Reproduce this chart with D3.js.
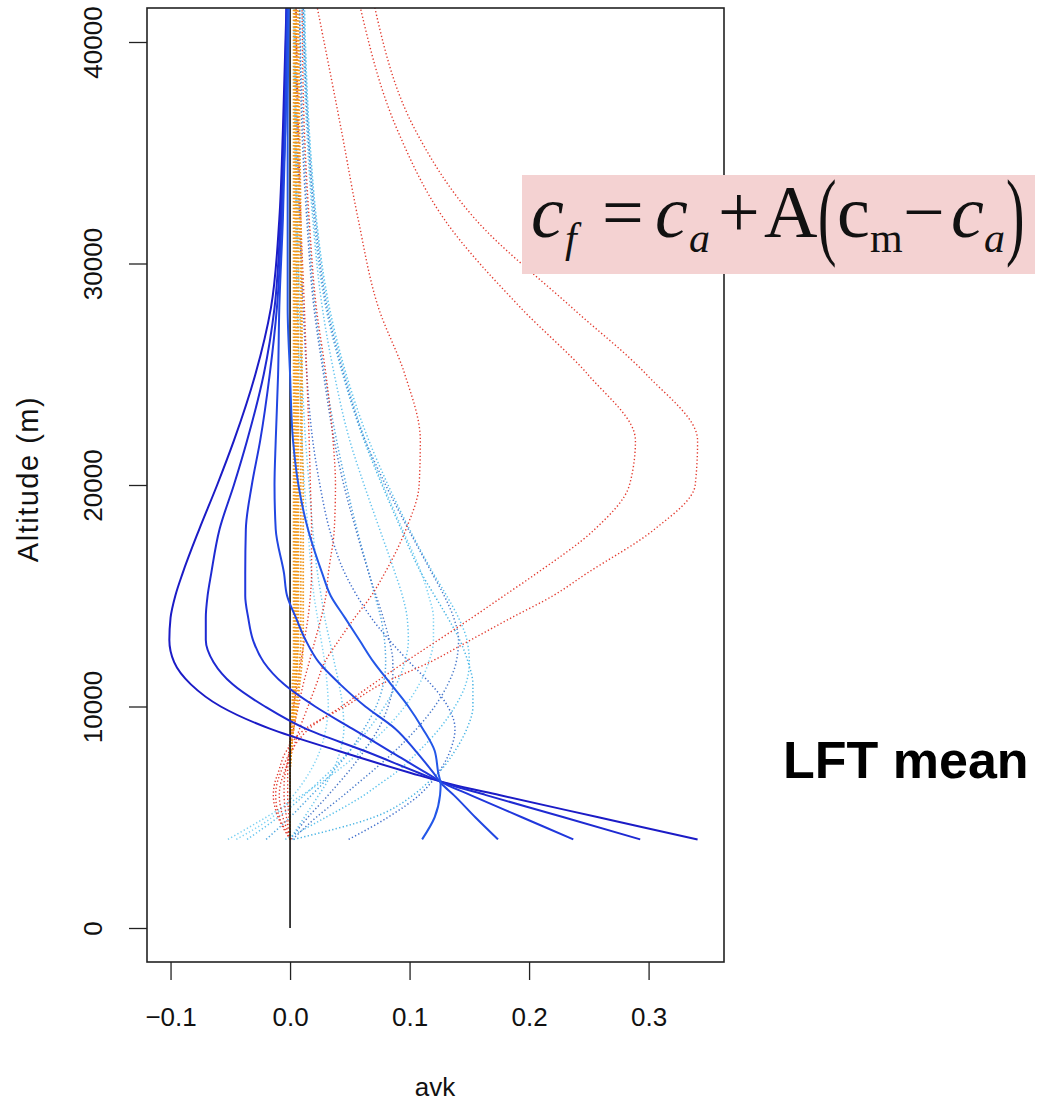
<!DOCTYPE html>
<html lang="en">
<head>
<meta charset="UTF-8">
<title>LFT mean – averaging kernels</title>
<script src="https://d3js.org/d3.v7.min.js"></script>
<style>
  body { margin: 0; background: #fff; }
  svg { display: block; font-family: "Liberation Sans", Arial, sans-serif; }
  .tick text { font-size: 26px; fill: #111; }
  .tick line { stroke: #222; stroke-width: 1.3; }
  .formula text { font-family: "Liberation Serif", "Times New Roman", serif; fill: #111; }
</style>
</head>
<body>
<svg width="1038" height="1102"></svg>
<script>
// altitude levels (m) shared by every kernel
const altitudes = [4000, 5000, 6000, 6500, 7000, 8000, 9000, 10000, 11000, 12000, 13000,
                   14000, 15000, 16000, 18000, 20000, 22000, 25000, 28000, 32000, 36000, 41600];

const xTicks = [-0.1, 0.0, 0.1, 0.2, 0.3];
const yTicks = [0, 10000, 20000, 30000, 40000];

// solid blue kernels (lowest levels)
const blue1 = [0.341, 0.258, 0.175, 0.134, 0.101, 0.040, -0.017, -0.058, -0.083, -0.097, -0.101, -0.100, -0.096, -0.090, -0.076, -0.061, -0.047, -0.029, -0.016, -0.009, -0.006, -0.003];
const blue2 = [0.293, 0.229, 0.164, 0.132, 0.108, 0.062, 0.013, -0.021, -0.048, -0.064, -0.0705, -0.0705, -0.069, -0.066, -0.059, -0.047, -0.036, -0.022, -0.013, -0.008, -0.005, -0.003];
const blue3 = [0.237, 0.194, 0.151, 0.130, 0.114, 0.083, 0.052, 0.021, -0.005, -0.022, -0.031, -0.035, -0.0375, -0.0375, -0.037, -0.032, -0.025, -0.017, -0.011, -0.007, -0.004, -0.002];
const blue4 = [0.174, 0.155, 0.137, 0.127, 0.120, 0.105, 0.088, 0.063, 0.042, 0.024, 0.013, 0.005, -0.0025, -0.005, -0.012, -0.013, -0.012, -0.010, -0.009, -0.006, -0.004, -0.002];
const blue5 = [0.1105, 0.121, 0.1255, 0.126, 0.124, 0.121, 0.111, 0.099, 0.0845, 0.070, 0.058, 0.046, 0.034, 0.027, 0.015, 0.007, 0.0025, 0.000, -0.002, -0.002, -0.002, -0.001];

// dotted cyan / blue kernels (middle levels)
const cyan1 = [0.049, 0.082, 0.108, 0.117, 0.124, 0.134, 0.138, 0.132, 0.118, 0.100, 0.083, 0.068, 0.056, 0.046, 0.033, 0.025, 0.019, 0.014, 0.011, 0.008, 0.006, 0.005];
const cyan2 = [0.003, 0.070, 0.103, 0.114, 0.124, 0.138, 0.148, 0.153, 0.153, 0.149, 0.142, 0.132, 0.121, 0.110, 0.093, 0.077, 0.062, 0.044, 0.030, 0.020, 0.015, 0.011];
const cyan3 = [-0.004, 0.030, 0.062, 0.075, 0.088, 0.108, 0.125, 0.138, 0.147, 0.150, 0.148, 0.141, 0.131, 0.120, 0.100, 0.082, 0.066, 0.047, 0.033, 0.022, 0.016, 0.012];
const cyan4 = [0.002, 0.022, 0.045, 0.056, 0.067, 0.088, 0.106, 0.121, 0.132, 0.139, 0.141, 0.137, 0.129, 0.119, 0.099, 0.080, 0.063, 0.045, 0.031, 0.021, 0.015, 0.011];
const cyan5 = [-0.052, -0.020, 0.010, 0.024, 0.037, 0.060, 0.080, 0.096, 0.108, 0.116, 0.120, 0.120, 0.116, 0.110, 0.094, 0.078, 0.063, 0.046, 0.032, 0.022, 0.016, 0.012];
const cyan6 = [-0.036, -0.010, 0.012, 0.022, 0.032, 0.050, 0.066, 0.079, 0.089, 0.096, 0.099, 0.098, 0.094, 0.088, 0.075, 0.062, 0.050, 0.037, 0.027, 0.019, 0.014, 0.010];
const cyan7 = [-0.020, 0.000, 0.018, 0.027, 0.035, 0.050, 0.062, 0.072, 0.078, 0.080, 0.079, 0.076, 0.071, 0.066, 0.056, 0.047, 0.039, 0.029, 0.021, 0.015, 0.011, 0.008];
const cyan8 = [0.000, 0.015, 0.032, 0.040, 0.048, 0.062, 0.074, 0.082, 0.086, 0.086, 0.083, 0.078, 0.072, 0.066, 0.055, 0.045, 0.037, 0.028, 0.020, 0.014, 0.010, 0.008];
const cyan9 = [0.000, 0.012, 0.024, 0.030, 0.035, 0.042, 0.045, 0.044, 0.041, 0.037, 0.033, 0.029, 0.026, 0.023, 0.019, 0.016, 0.013, 0.010, 0.008, 0.006, 0.005, 0.004];
const cyan10 = [-0.045, -0.015, 0.003, 0.010, 0.016, 0.025, 0.030, 0.032, 0.031, 0.029, 0.026, 0.023, 0.020, 0.018, 0.015, 0.012, 0.010, 0.008, 0.006, 0.005, 0.004, 0.003];

// dotted red kernels (upper levels)
const red1 = [0.000, -0.010, -0.014, -0.013, -0.010, -0.003, 0.013, 0.046, 0.076, 0.117, 0.151, 0.185, 0.220, 0.248, 0.305, 0.339, 0.341, 0.298, 0.236, 0.155, 0.105, 0.0707];
const red2 = [0.001, -0.009, -0.012, -0.011, -0.008, 0.001, 0.016, 0.043, 0.069, 0.096, 0.124, 0.152, 0.179, 0.206, 0.255, 0.284, 0.289, 0.249, 0.193, 0.129, 0.090, 0.0586];
const red3 = [0.001, -0.006, -0.009, -0.008, -0.005, 0.002, 0.008, 0.015, 0.022, 0.029, 0.041, 0.054, 0.068, 0.079, 0.097, 0.108, 0.109, 0.096, 0.074, 0.057, 0.043, 0.0226];
const red4 = [0.000, -0.003, -0.005, -0.005, -0.004, 0.000, 0.003, 0.007, 0.011, 0.016, 0.021, 0.026, 0.030, 0.032, 0.037, 0.038, 0.036, 0.030, 0.022, 0.016, 0.012, 0.010];
const red5 = [0.000, -0.001, -0.002, -0.002, -0.002, -0.001, 0.001, 0.003, 0.006, 0.009, 0.012, 0.015, 0.017, 0.018, 0.018, 0.017, 0.016, 0.014, 0.012, 0.009, 0.007, 0.005];

// dotted orange kernels (top levels, hugging zero)
const orange1 = [0, 0, 0, 0, 0, 0, 0.001, 0.002, 0.002, 0.003, 0.003, 0.003, 0.003, 0.003, 0.003, 0.003, 0.003, 0.003, 0.003, 0.003, 0.003, 0.003];
const orange2 = [0, 0, 0, 0, 0, 0, 0.002, 0.003, 0.004, 0.005, 0.005, 0.005, 0.005, 0.005, 0.005, 0.005, 0.005, 0.005, 0.005, 0.005, 0.005, 0.004];
const orange3 = [0, 0, 0, 0, 0, 0.001, 0.002, 0.004, 0.005, 0.006, 0.007, 0.007, 0.007, 0.007, 0.007, 0.007, 0.007, 0.007, 0.007, 0.007, 0.006, 0.005];
const orange4 = [0, 0, 0, 0, 0, 0.001, 0.003, 0.005, 0.007, 0.008, 0.009, 0.009, 0.009, 0.009, 0.009, 0.009, 0.009, 0.009, 0.009, 0.008, 0.007, 0.006];
const orange5 = [0, 0, 0, 0, 0, 0.001, 0.003, 0.006, 0.008, 0.010, 0.011, 0.011, 0.011, 0.011, 0.011, 0.011, 0.010, 0.010, 0.010, 0.009, 0.008, 0.007];
const orange6 = [0, 0, 0, 0, 0, 0.000, 0.001, 0.002, 0.003, 0.004, 0.004, 0.004, 0.004, 0.004, 0.004, 0.004, 0.004, 0.004, 0.004, 0.004, 0.004, 0.004];
const orange7 = [0, 0, 0, 0, 0, 0.001, 0.002, 0.003, 0.005, 0.006, 0.006, 0.006, 0.006, 0.006, 0.006, 0.006, 0.006, 0.006, 0.006, 0.006, 0.005, 0.005];

const zeroLineAlt = [0, 41600];
const zeroLineVal = [0, 0];

const blueSeries = [blue1, blue2, blue3, blue4, blue5];
const cyanSeries = [cyan1, cyan2, cyan3, cyan4, cyan5, cyan6, cyan7, cyan8, cyan9, cyan10];
const redSeries = [red1, red2, red3, red4, red5];
const orangeSeries = [orange1, orange2, orange3, orange4, orange5, orange6, orange7];

// styles
const blueColors = ["#1b1bc6", "#1e2ad2", "#2037dc", "#2147e2", "#2357e8"];
const cyanColors = ["#3f6ecc", "#48b4e4", "#5ac2ec", "#4a7bcb", "#78d0f2",
                    "#62c3ee", "#4fa7e0", "#4976c6", "#6cc8ee", "#80d3f4"];
const redColor = "#e2392d";
const orangeColor = "#f0961a";

const svg = d3.select("svg");
const plotL = 147, plotR = 724, plotT = 8, plotB = 962;

const x = d3.scaleLinear().domain([-0.1197, 0.3631]).range([plotL, plotR]);
const y = d3.scaleLinear().domain([-1535, 41535]).range([plotB, plotT]);

svg.append("defs").append("clipPath").attr("id", "plotClip")
  .append("rect").attr("x", plotL).attr("y", plotT).attr("width", plotR - plotL).attr("height", plotB - plotT);

const line = d3.line()
  .x(d => x(d[1]))
  .y(d => y(d[0]))
  .curve(d3.curveMonotoneY);

const pts = vals => altitudes.map((a, i) => [a, vals[i]]);

const plot = svg.append("g").attr("clip-path", "url(#plotClip)");

plot.selectAll("path.cyan")
  .data(cyanSeries)
  .enter().append("path")
  .attr("class", "cyan")
  .attr("d", d => line(pts(d)))
  .attr("fill", "none")
  .attr("stroke", (d, i) => cyanColors[i])
  .attr("stroke-width", 1.5)
  .attr("stroke-dasharray", "1.3 2.3");

plot.selectAll("path.red")
  .data(redSeries)
  .enter().append("path")
  .attr("class", "red")
  .attr("d", d => line(pts(d)))
  .attr("fill", "none")
  .attr("stroke", redColor)
  .attr("stroke-width", 1.4)
  .attr("stroke-dasharray", "1.3 2.3");

plot.selectAll("path.orange")
  .data(orangeSeries)
  .enter().append("path")
  .attr("class", "orange")
  .attr("d", d => line(pts(d)))
  .attr("fill", "none")
  .attr("stroke", orangeColor)
  .attr("stroke-width", 1.8)
  .attr("stroke-dasharray", "1.5 1.8");

plot.append("path")
  .attr("d", d3.line().x(d => x(d[1])).y(d => y(d[0]))(zeroLineAlt.map((a, i) => [a, zeroLineVal[i]])))
  .attr("stroke", "#111")
  .attr("stroke-width", 1.6)
  .attr("fill", "none");

plot.selectAll("path.blue")
  .data(blueSeries)
  .enter().append("path")
  .attr("class", "blue")
  .attr("d", d => line(pts(d)))
  .attr("fill", "none")
  .attr("stroke", (d, i) => blueColors[i])
  .attr("stroke-width", 2);

// frame
svg.append("rect")
  .attr("x", plotL).attr("y", plotT)
  .attr("width", plotR - plotL).attr("height", plotB - plotT)
  .attr("fill", "none").attr("stroke", "#222").attr("stroke-width", 1.6);

// x axis
const xAxis = svg.append("g")
  .attr("transform", `translate(0,${plotB})`)
  .call(d3.axisBottom(x).tickValues(xTicks).tickSize(18).tickPadding(28).tickFormat(d3.format(".1f")));
xAxis.select(".domain").remove();

// y axis with R-style rotated labels
const yAxis = svg.append("g")
  .attr("transform", `translate(${plotL},0)`)
  .call(d3.axisLeft(y).tickValues(yTicks).tickSize(18).tickFormat(d3.format("d")));
yAxis.select(".domain").remove();
yAxis.selectAll(".tick text")
  .attr("x", null).attr("dy", null)
  .attr("text-anchor", "middle")
  .attr("transform", "translate(-45,0) rotate(-90)");

svg.append("text")
  .attr("x", 435).attr("y", 1096)
  .attr("text-anchor", "middle")
  .attr("font-size", 26).attr("fill", "#111")
  .text("avk");

svg.append("text")
  .attr("transform", "translate(38,479) rotate(-90)")
  .attr("text-anchor", "middle")
  .attr("font-size", 29).attr("letter-spacing", 1.5).attr("fill", "#111")
  .text("Altitude (m)");

svg.append("text")
  .attr("x", 783).attr("y", 778)
  .attr("font-size", 52).attr("font-weight", "bold").attr("fill", "#000")
  .text("LFT mean");

// formula box
const f = svg.append("g").attr("class", "formula");
f.append("rect")
  .attr("x", 522).attr("y", 175).attr("width", 513).attr("height", 99)
  .attr("fill", "#f4d2d2");

const big = 74, sub = 42;
const part = (txt, px, py, size, italic) =>
  f.append("text").attr("x", px).attr("y", py).attr("font-size", size)
   .attr("font-style", italic ? "italic" : "normal").text(txt);

part("c", 531, 237, big, true);
part("f", 565, 252, sub, true);
part("=", 602, 237, big, false);
part("c", 655, 237, big, true);
part("a", 689, 252, sub, true);
part("+", 718, 237, big, false);
part("A", 764, 237, big, false);
part("c", 837, 237, big, false);
part("m", 870, 252, sub, false);
part("\u2212", 903, 237, big, false);
part("c", 951, 237, big, true);
part("a", 984, 252, sub, true);

f.append("text").attr("transform", "translate(818,247) scale(0.75,1.33)")
  .attr("font-size", big).text("(");
f.append("text").attr("transform", "translate(1006,247) scale(0.75,1.33)")
  .attr("font-size", big).text(")");
</script>
</body>
</html>
